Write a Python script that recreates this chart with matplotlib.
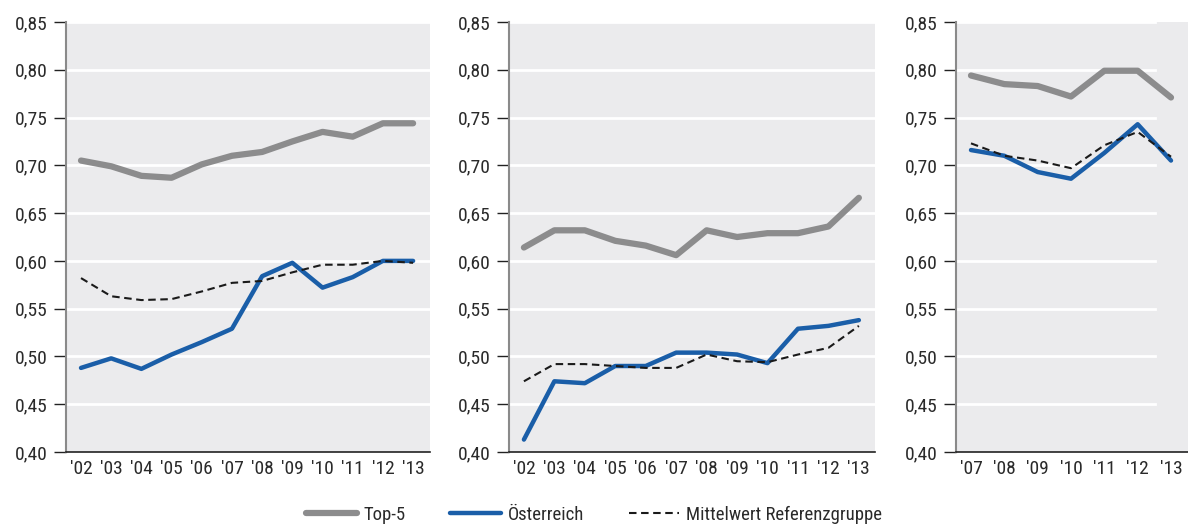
import matplotlib.pyplot as plt
from matplotlib.ticker import FuncFormatter

plt.rcParams['font.family'] = ['Roboto Condensed', 'DejaVu Sans']

# data
years_a = ["'02", "'03", "'04", "'05", "'06", "'07", "'08", "'09", "'10", "'11", "'12", "'13"]
years_c = ["'07", "'08", "'09", "'10", "'11", "'12", "'13"]

top5_a = [0.705, 0.699, 0.689, 0.687, 0.701, 0.710, 0.714, 0.725, 0.735, 0.730, 0.744, 0.744]
at_a = [0.488, 0.498, 0.487, 0.502, 0.515, 0.529, 0.584, 0.598, 0.572, 0.583, 0.600, 0.600]
ref_a = [0.582, 0.563, 0.559, 0.560, 0.568, 0.577, 0.579, 0.588, 0.596, 0.596, 0.600, 0.598]

top5_b = [0.614, 0.632, 0.632, 0.621, 0.616, 0.606, 0.632, 0.625, 0.629, 0.629, 0.636, 0.666]
at_b = [0.413, 0.474, 0.472, 0.490, 0.490, 0.504, 0.504, 0.502, 0.493, 0.529, 0.532, 0.538]
ref_b = [0.474, 0.492, 0.492, 0.490, 0.488, 0.488, 0.502, 0.495, 0.494, 0.502, 0.509, 0.532]

top5_c = [0.794, 0.785, 0.783, 0.772, 0.799, 0.799, 0.771]
at_c = [0.716, 0.710, 0.693, 0.686, 0.713, 0.743, 0.705]
ref_c = [0.723, 0.710, 0.705, 0.697, 0.721, 0.735, 0.709]

yticks = [0.40, 0.45, 0.50, 0.55, 0.60, 0.65, 0.70, 0.75, 0.80, 0.85]

W, H = 1188, 527
fig = plt.figure(figsize=(W / 100, H / 100), dpi=100)

# (left px, right px, xlim, grid end fraction)
panels = [
    (66, 430, (-0.497, 11.56), 1.0, years_a, top5_a, at_a, ref_a),
    (509, 875, (-0.49, 11.53), 1.0, years_a, top5_b, at_b, ref_b),
    (956, 1188, (-0.45, 6.51), 0.858, years_c, top5_c, at_c, ref_c),
]

bg = '#ebebed'
for left, right, xlim, gend, labels, top5, at, ref in panels:
    ax = fig.add_axes([left / W, 1 - 452 / H, (right - left) / W, 430 / H])
    ax.set_facecolor(bg)
    x = list(range(len(labels)))
    for t in yticks[1:]:
        ax.axhline(t, xmin=0, xmax=gend, color='white', lw=2, zorder=1)
    ax.plot(x, top5, color='#8c8c8d', lw=4.5, solid_capstyle='round', zorder=3, label='Top-5')
    ax.plot(x, at, color='#1a5ea8', lw=3.2, solid_capstyle='round', zorder=4, label='Österreich')
    ax.plot(x, ref, color='#1a1a1a', lw=1.5, ls=(0, (3.6, 2.2)), zorder=5,
            label='Mittelwert Referenzgruppe')
    ax.set_xlim(*xlim)
    ax.set_ylim(0.40, 0.85)
    ax.set_yticks(yticks)
    ax.yaxis.set_major_formatter(FuncFormatter(lambda v, p: f'{v:.2f}'.replace('.', ',')))
    ax.set_xticks(x)
    ax.set_xticklabels(labels)
    for s in ['top', 'right']:
        ax.spines[s].set_visible(False)
    ax.spines['left'].set_color('#8a8a8a')
    ax.spines['left'].set_linewidth(1.5)
    ax.spines['bottom'].set_color('#222222')
    ax.spines['bottom'].set_linewidth(1.2)
    ax.tick_params(axis='y', length=9, width=1.0, color='#222222', labelsize=14,
                   labelcolor='#2a2a2a', pad=4)
    ax.tick_params(axis='x', length=0, labelsize=14, labelcolor='#2a2a2a', pad=6)
    handles, names = ax.get_legend_handles_labels()

fig.legend(handles, names, loc='center', bbox_to_anchor=(0.5, 1 - 515 / H), ncol=3,
           frameon=False, fontsize=13.5, handlelength=2.7, columnspacing=2.4, handletextpad=0.35,
           labelcolor='#2a2a2a')

fig.savefig('out.png', dpi=100)
